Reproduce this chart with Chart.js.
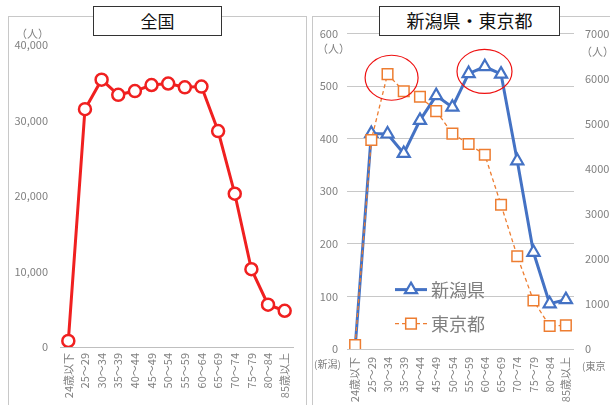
<!DOCTYPE html>
<html>
<head>
<meta charset="utf-8">
<script src="https://cdn.jsdelivr.net/npm/chart.js@4"></script>
<style>
  html, body { margin: 0; padding: 0; background: #fff; }
  body { width: 610px; height: 405px; position: relative; overflow: hidden;
    font-family: "Noto Sans CJK JP", "Noto Sans", sans-serif; }
  .panel { position: absolute; top: 16px; height: 400px; border: 1px solid #c8c8c8; box-sizing: border-box; }
  .title { position: absolute; top: 6px; height: 30px; background: #fff; border: 1.5px solid #333;
    box-sizing: border-box; text-align: center; line-height: 27px; color: #111; z-index: 3; }
  .unit { position: absolute; font-size: 10px; color: #808080; z-index: 2; white-space: nowrap; }
  canvas { position: absolute; top: 16px; z-index: 1; }
</style>
</head>
<body>
<div class="panel" style="left:8px;width:299px;"></div>
<div class="panel" style="left:312px;width:320px;"></div>
<div class="title" style="left:93px;width:129px;font-size:17px;">全国</div>
<div class="title" style="left:379px;width:181px;font-size:18px;">新潟県・東京都</div>
<div class="unit" style="left:16px;top:25px;font-size:11px;">（人）</div>
<div class="unit" style="left:317px;top:40px;font-size:11px;">（人）</div>
<div class="unit" style="left:581px;top:43px;font-size:11px;">（人）</div>
<div class="unit" style="left:314px;top:356px;">(新潟)</div>
<div class="unit" style="left:582px;top:358px;">(東京</div>
<canvas id="zenkoku" width="298" height="389" style="left:8px;"></canvas>
<canvas id="pref" width="298" height="389" style="left:312px;"></canvas>
<script>
/*jslint browser:true, indent:2*/
/*globals Chart*/
(function () {
  'use strict';

  var categories, national, niigata, tokyo, circles, grey, tickFont;

  categories = ['24歳以下', '25～29', '30～34', '35～39', '40～44', '45～49', '50～54',
    '55～59', '60～64', '65～69', '70～74', '75～79', '80～84', '85歳以上'];

  national = [800, 31500, 35400, 33400, 33900, 34700, 34900, 34400, 34500,
    28600, 20300, 10300, 5600, 4800];

  niigata = [2, 410, 409, 372, 435, 482, 460, 524, 537, 523, 358, 184, 86, 94];

  tokyo = [90, 4640, 6100, 5720, 5600, 5280, 4780, 4550, 4310, 3200, 2060, 1075, 510, 525];

  // highlighted spots: [category index, niigata-axis value, radius x, radius y]
  circles = [[2.25, 516, 26.5, 22.5], [7.98, 528, 27.5, 22]];

  grey = '#808080';
  tickFont = { family: '"Noto Sans CJK JP", "Noto Sans", sans-serif', size: 11 };

  Chart.defaults.animation = false;
  Chart.defaults.font.family = tickFont.family;

  new Chart(document.getElementById('zenkoku').getContext('2d'), {
    type: 'line',
    data: {
      labels: categories,
      datasets: [{
        data: national,
        borderColor: '#f02020',
        borderWidth: 3,
        pointRadius: 6,
        pointBorderWidth: 2.5,
        pointBackgroundColor: '#fff',
        pointBorderColor: '#f02020',
        tension: 0
      }]
    },
    options: {
      responsive: false,
      layout: { padding: { top: 29, right: 13, left: 0, bottom: 0 } },
      plugins: { legend: { display: false }, tooltip: { enabled: false } },
      scales: {
        x: {
          offset: true,
          grid: { display: false, drawTicks: false },
          border: { display: true, color: '#bfbfbf', width: 1 },
          ticks: { color: grey, font: tickFont, minRotation: 90, maxRotation: 90, autoSkip: false, padding: 6 },
          afterFit: function (scale) { scale.height = 58; }
        },
        y: {
          min: 0,
          max: 40000,
          grid: { display: false, drawTicks: false },
          border: { display: false },
          ticks: {
            stepSize: 10000,
            color: grey,
            font: tickFont,
            padding: 12,
            callback: function (v) { return v.toLocaleString('en-US'); }
          },
          afterFit: function (scale) { scale.width = 52; }
        }
      }
    }
  });

  new Chart(document.getElementById('pref').getContext('2d'), {
    type: 'line',
    data: {
      labels: categories,
      datasets: [{
        label: '新潟県',
        data: niigata,
        yAxisID: 'yL',
        order: 2,
        borderColor: '#4472c4',
        borderWidth: 3,
        pointStyle: 'triangle',
        pointRadius: 7,
        pointBorderWidth: 2.2,
        pointBackgroundColor: '#fff',
        pointBorderColor: '#4472c4',
        tension: 0
      }, {
        label: '東京都',
        data: tokyo,
        yAxisID: 'yR',
        order: 1,
        borderColor: '#ed7d31',
        borderWidth: 1.3,
        borderDash: [4, 3],
        pointStyle: 'rect',
        pointRadius: 7.5,
        pointBorderWidth: 1.5,
        pointBackgroundColor: '#fff',
        pointBorderColor: '#ed7d31',
        tension: 0
      }]
    },
    options: {
      responsive: false,
      layout: { padding: { top: 14, right: 0, left: 0, bottom: 0 } },
      plugins: { legend: { display: false }, tooltip: { enabled: false } },
      scales: {
        x: {
          offset: true,
          grid: { display: false, drawTicks: false },
          border: { display: false },
          ticks: { color: grey, font: tickFont, minRotation: 90, maxRotation: 90, autoSkip: false, padding: 8 },
          afterFit: function (scale) { scale.height = 56; }
        },
        yL: {
          position: 'left',
          min: 0,
          max: 600,
          grid: { color: '#c8c8c8', drawTicks: false },
          border: { display: false },
          ticks: { stepSize: 100, color: grey, font: tickFont, padding: 9 },
          afterFit: function (scale) { scale.width = 35; }
        },
        yR: {
          position: 'right',
          min: 0,
          max: 7000,
          grid: { display: false, drawTicks: false },
          border: { display: false },
          ticks: {
            stepSize: 1000,
            color: grey,
            font: tickFont,
            padding: 11,
            callback: function (v) { return String(v); }
          },
          afterFit: function (scale) { scale.width = 36; }
        }
      }
    },
    plugins: [{
      id: 'notes',
      afterDatasetsDraw: function (chart) {
        var ctx, xs, ys, area;
        ctx = chart.ctx;
        xs = chart.scales.x;
        ys = chart.scales.yL;
        area = chart.chartArea;

        ctx.save();
        ctx.strokeStyle = '#ee1111';
        ctx.lineWidth = 1.2;
        circles.forEach(function (c) {
          ctx.beginPath();
          ctx.ellipse(xs.getPixelForValue(c[0]), ys.getPixelForValue(c[1]), c[2], c[3], 0, 0, Math.PI * 2);
          ctx.stroke();
        });

        // legend, drawn inside the plot like the original
        chart.data.datasets.forEach(function (ds, i) {
          var lx, ly;
          lx = area.left + 48;
          ly = area.top + 256 + i * 34;
          ctx.save();
          ctx.strokeStyle = ds.borderColor;
          ctx.lineWidth = ds.borderWidth;
          ctx.setLineDash(ds.borderDash || []);
          ctx.beginPath();
          ctx.moveTo(lx, ly);
          ctx.lineTo(lx + 32, ly);
          ctx.stroke();
          ctx.setLineDash([]);
          ctx.fillStyle = '#fff';
          ctx.lineWidth = ds.pointBorderWidth;
          Chart.helpers.drawPoint(ctx, { pointStyle: ds.pointStyle, radius: ds.pointRadius, borderWidth: ds.pointBorderWidth, rotation: 0 }, lx + 16, ly);
          ctx.fillStyle = grey;
          ctx.font = '18px ' + tickFont.family;
          ctx.textBaseline = 'middle';
          ctx.fillText(ds.label, lx + 36, ly + 1);
          ctx.restore();
        });
        ctx.restore();
      }
    }]
  });
}());
</script>
</body>
</html>
